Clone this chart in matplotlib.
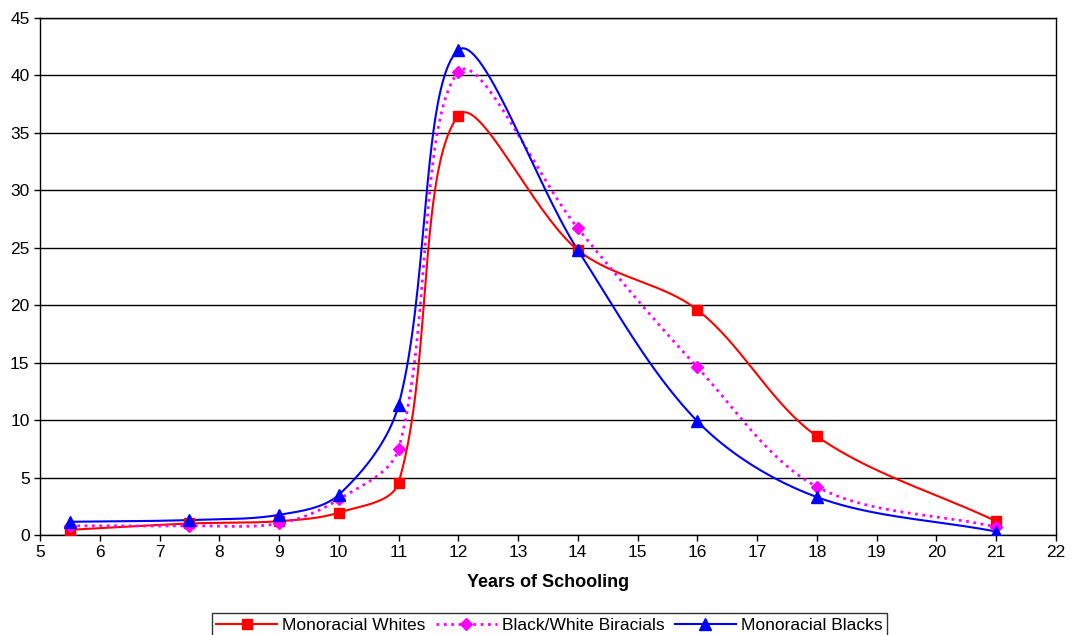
import numpy as np
import matplotlib.pyplot as plt
from matplotlib.lines import Line2D

plt.rcParams['font.family'] = ['Liberation Sans', 'DejaVu Sans']

# data
years = [5.5, 7.5, 9, 10, 11, 12, 14, 16, 18, 21]
whites = [0.45, 1.0, 1.2, 1.95, 4.55, 36.5, 24.8, 19.6, 8.6, 1.2]
biracials = [0.8, 0.8, 1.0, 3.1, 7.5, 40.3, 26.7, 14.6, 4.2, 0.7]
blacks = [1.15, 1.3, 1.75, 3.5, 11.3, 42.2, 24.8, 9.9, 3.3, 0.3]


def smooth(ax, x, y, n=80):
    # Excel-style smoothed line: Bezier segments with control points
    # weighted by segment lengths, worked out in screen space
    pts = ax.transData.transform(np.column_stack([x, y]))
    p = np.vstack([pts[0], pts, pts[-1]])
    t = np.linspace(0, 1, n)[:, None]
    out = []
    for i in range(1, len(p) - 2):
        p0, p1, p2, p3 = p[i - 1], p[i], p[i + 1], p[i + 2]
        d01 = np.hypot(*(p1 - p0))
        d12 = np.hypot(*(p2 - p1))
        d23 = np.hypot(*(p3 - p2))
        w1 = d12 / (d01 + d12) if d01 + d12 > 0 else 0.5
        w2 = d12 / (d12 + d23) if d12 + d23 > 0 else 0.5
        c1 = p1 + (p2 - p0) * w1 / 3
        c2 = p2 - (p3 - p1) * w2 / 3
        b = (1 - t) ** 3 * p1 + 3 * (1 - t) ** 2 * t * c1 + 3 * (1 - t) * t ** 2 * c2 + t ** 3 * p2
        out.append(b)
    out = ax.transData.inverted().transform(np.vstack(out))
    return out[:, 0], out[:, 1]


fig = plt.figure(figsize=(10.75, 6.35), dpi=100)
ax = fig.add_axes([0.0372, 0.1575, 0.945, 0.8142])
ax.set_xlim(5, 22)
ax.set_ylim(0, 45)

series = [
    ("Monoracial Whites", whites, "#ff0000", "-", "s", 7),
    ("Black/White Biracials", biracials, "#ff00ff", ":", "D", 6),
    ("Monoracial Blacks", blacks, "#0000ff", "-", "^", 8),
]

handles = []
for label, vals, color, ls, mk, ms in series:
    sx, sy = smooth(ax, years, vals)
    lw = 2.0 if ls == ":" else 1.5
    ax.plot(sx, sy, color=color, linestyle=ls, linewidth=lw, zorder=3)
    ax.plot(years, vals, linestyle="none", marker=mk, color=color,
            markersize=ms, zorder=4)
    handles.append(Line2D([], [], color=color, linestyle=ls, linewidth=lw,
                          marker=mk, markersize=ms, label=label))

ax.set_xticks(range(5, 23))
ax.set_yticks(range(0, 46, 5))
ax.grid(axis="y", color="black", linewidth=1.0)
ax.set_axisbelow(True)
for s in ax.spines.values():
    s.set_color("black")
    s.set_linewidth(1.0)
ax.tick_params(axis="both", labelsize=12.5, direction="out", length=4, width=1, colors="black")
ax.set_xlabel("Years of Schooling", fontsize=13, fontweight="bold", labelpad=10)

leg = fig.legend(handles=handles, loc="center", bbox_to_anchor=(0.511, 0.0155), ncol=3,
                 frameon=True, fancybox=False, edgecolor="black", fontsize=12.5,
                 handlelength=3.5, columnspacing=0.6, handletextpad=0.3,
                 borderpad=0.25)
leg.get_frame().set_linewidth(1.0)

fig.savefig("out.png", dpi=100)
